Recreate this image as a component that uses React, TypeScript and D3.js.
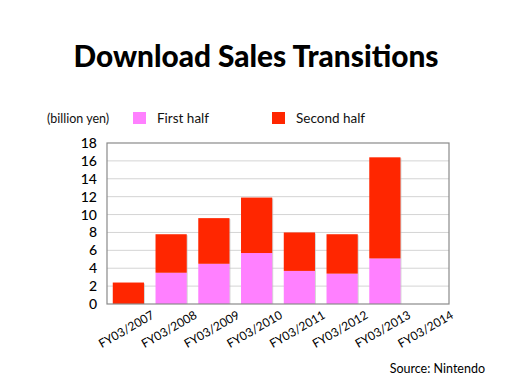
import React from "react";
import * as d3 from "d3";

const categories = ["FY03/2007", "FY03/2008", "FY03/2009", "FY03/2010", "FY03/2011", "FY03/2012", "FY03/2013", "FY03/2014"];
const firstHalf = [0, 3.5, 4.5, 5.7, 3.7, 3.4, 5.1, 0];
const secondHalf = [2.4, 4.3, 5.1, 6.2, 4.3, 4.4, 11.3, 0];
const yTicks = [0, 2, 4, 6, 8, 10, 12, 14, 16, 18];
const seriesNames = ["First half", "Second half"];
const seriesColors = ["#FF80FF", "#FF2600"];

const W = 512, H = 384;
const left = 107, right = 449, top = 143, bottom = 304;
const FONT = "Lato, 'Noto Sans', sans-serif";

export default function App() {
  const x = d3.scaleBand<string>().domain(categories).range([left, right]).paddingInner(0.27).paddingOuter(0.135);
  const y = d3.scaleLinear().domain([0, 18]).range([bottom, top]);
  const bw = x.bandwidth();
  return (
    <svg width={W} height={H} style={{ position: "absolute", left: 0, top: 0, background: "#fff" }}>
      <text x={256} y={67} textAnchor="middle" fontFamily={FONT} fontWeight={900} fontSize={29.8} fill="#000">Download Sales Transitions</text>
      <text x={47} y={123} fontFamily={FONT} fontSize={12.5} fill="#111">(billion yen)</text>
      {seriesNames.map((n, i) => (
        <g key={n}>
          <rect x={[133, 272][i]} y={112} width={13} height={12} fill={seriesColors[i]} />
          <text x={[157, 296][i]} y={123} fontFamily={FONT} fontSize={13.5} fill="#111">{n}</text>
        </g>
      ))}
      {yTicks.map((t) => (
        <g key={t}>
          {t > 0 && t < 18 && <line x1={left} x2={right} y1={y(t)} y2={y(t)} stroke="#d4d4d4" strokeWidth={1} />}
          <text x={97} y={y(t) + 5} textAnchor="end" fontFamily={FONT} fontWeight={500} fontSize={14} fill="#000">{t}</text>
        </g>
      ))}
      {categories.map((c, i) => {
        const x0 = x(c)!;
        const f = firstHalf[i], s = secondHalf[i];
        const total = f + s;
        return (
          <g key={c}>
            {total > 0 && <rect x={x0 + 1} y={y(total) + 1} width={bw} height={y(0) - y(total) - 1} fill="#bbb" opacity={0.6} />}
            {f > 0 && <rect x={x0} y={y(f)} width={bw} height={y(0) - y(f)} fill={seriesColors[0]} />}
            {s > 0 && <rect x={x0} y={y(total)} width={bw} height={y(f) - y(total)} fill={seriesColors[1]} />}
            <text transform={`translate(${x0 + bw / 2},${333}) rotate(-30)`} textAnchor="middle" fontFamily={FONT} fontSize={12} fill="#000">{c}</text>
          </g>
        );
      })}
      <rect x={left} y={top} width={right - left} height={bottom - top} fill="none" stroke="#8a8a8a" strokeWidth={1.2} />
      <text x={485} y={373} textAnchor="end" fontFamily={FONT} fontSize={12.5} fill="#000">Source: Nintendo</text>
    </svg>
  );
}
